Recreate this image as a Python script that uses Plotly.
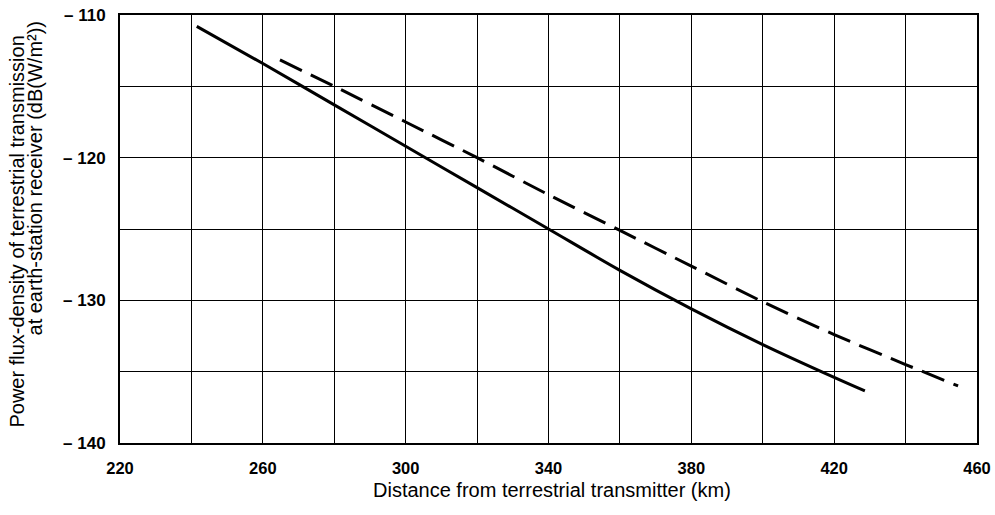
import plotly.graph_objects as go

# Solid curve
solid_x = [241.5, 260, 280, 300, 320, 340, 360, 380, 400, 420, 428.6]
solid_y = [-110.8, -113.4, -116.3, -119.2, -122.1, -125.0, -127.9, -130.6, -133.1, -135.4, -136.35]

# Dashed curve
dash_x = [264.8, 280, 300, 320, 340, 360, 380, 400, 420, 440, 454.7]
dash_y = [-113.15, -115.0, -117.5, -120.0, -122.6, -125.1, -127.6, -130.1, -132.4, -134.5, -136.0]

x_ticks = [220, 240, 260, 280, 300, 320, 340, 360, 380, 400, 420, 440, 460]
x_labels = ["220", "", "260", "", "300", "", "340", "", "380", "", "420", "", "460"]
y_ticks = [-140, -135, -130, -125, -120, -115, -110]
y_labels = ["– 140", "", "– 130", "", "– 120", "", "– 110"]

x_title = "Distance from terrestrial transmitter (km)"
y_title_1 = "Power flux-density of terrestrial transmission"
y_title_2 = "at earth-station receiver (dB(W/m²))"

fig = go.Figure()
fig.add_trace(go.Scatter(x=solid_x, y=solid_y, mode="lines",
                         line=dict(color="black", width=3, shape="spline", smoothing=0.8),
                         showlegend=False))
fig.add_trace(go.Scatter(x=dash_x, y=dash_y, mode="lines",
                         line=dict(color="black", width=3, dash="24px,10px", shape="spline", smoothing=0.8),
                         showlegend=False))

fig.update_layout(
    width=995, height=515,
    margin=dict(l=120, r=18, t=15, b=72),
    paper_bgcolor="white", plot_bgcolor="white",
    font=dict(family="Liberation Sans", color="black"),
)
fig.update_xaxes(
    range=[220, 460], tickvals=x_ticks, ticktext=x_labels,
    showgrid=True, gridcolor="black", gridwidth=1,
    showline=True, linecolor="black", linewidth=2, mirror=True,
    ticks="", ticklabelstandoff=9, zeroline=False, automargin=False,
    tickfont=dict(family="Liberation Sans", size=16.5, color="black", weight="bold"),
)
fig.update_yaxes(
    range=[-140, -110], tickvals=y_ticks, ticktext=y_labels,
    showgrid=True, gridcolor="black", gridwidth=1,
    showline=True, linecolor="black", linewidth=2, mirror=True,
    ticks="", ticklabelstandoff=9, zeroline=False, automargin=False,
    tickfont=dict(family="Liberation Sans", size=17, color="black", weight="bold"),
)

tfont = dict(family="Liberation Sans", size=20, color="black")
fig.add_annotation(text=x_title, xref="paper", yref="paper", x=0.5, y=0,
                   xanchor="center", yanchor="middle", yshift=-47, xshift=3,
                   showarrow=False, font=tfont)
fig.add_annotation(text=y_title_1, xref="paper", yref="paper", x=0, y=0.494,
                   xanchor="center", yanchor="middle", xshift=-103, textangle=-90,
                   showarrow=False, font=tfont)
fig.add_annotation(text=y_title_2, xref="paper", yref="paper", x=0, y=0.618,
                   xanchor="center", yanchor="middle", xshift=-85, textangle=-90,
                   showarrow=False, font=tfont)

fig.write_html("out.html", config={"displayModeBar": False},
               post_script="document.body.style.margin='0';")
